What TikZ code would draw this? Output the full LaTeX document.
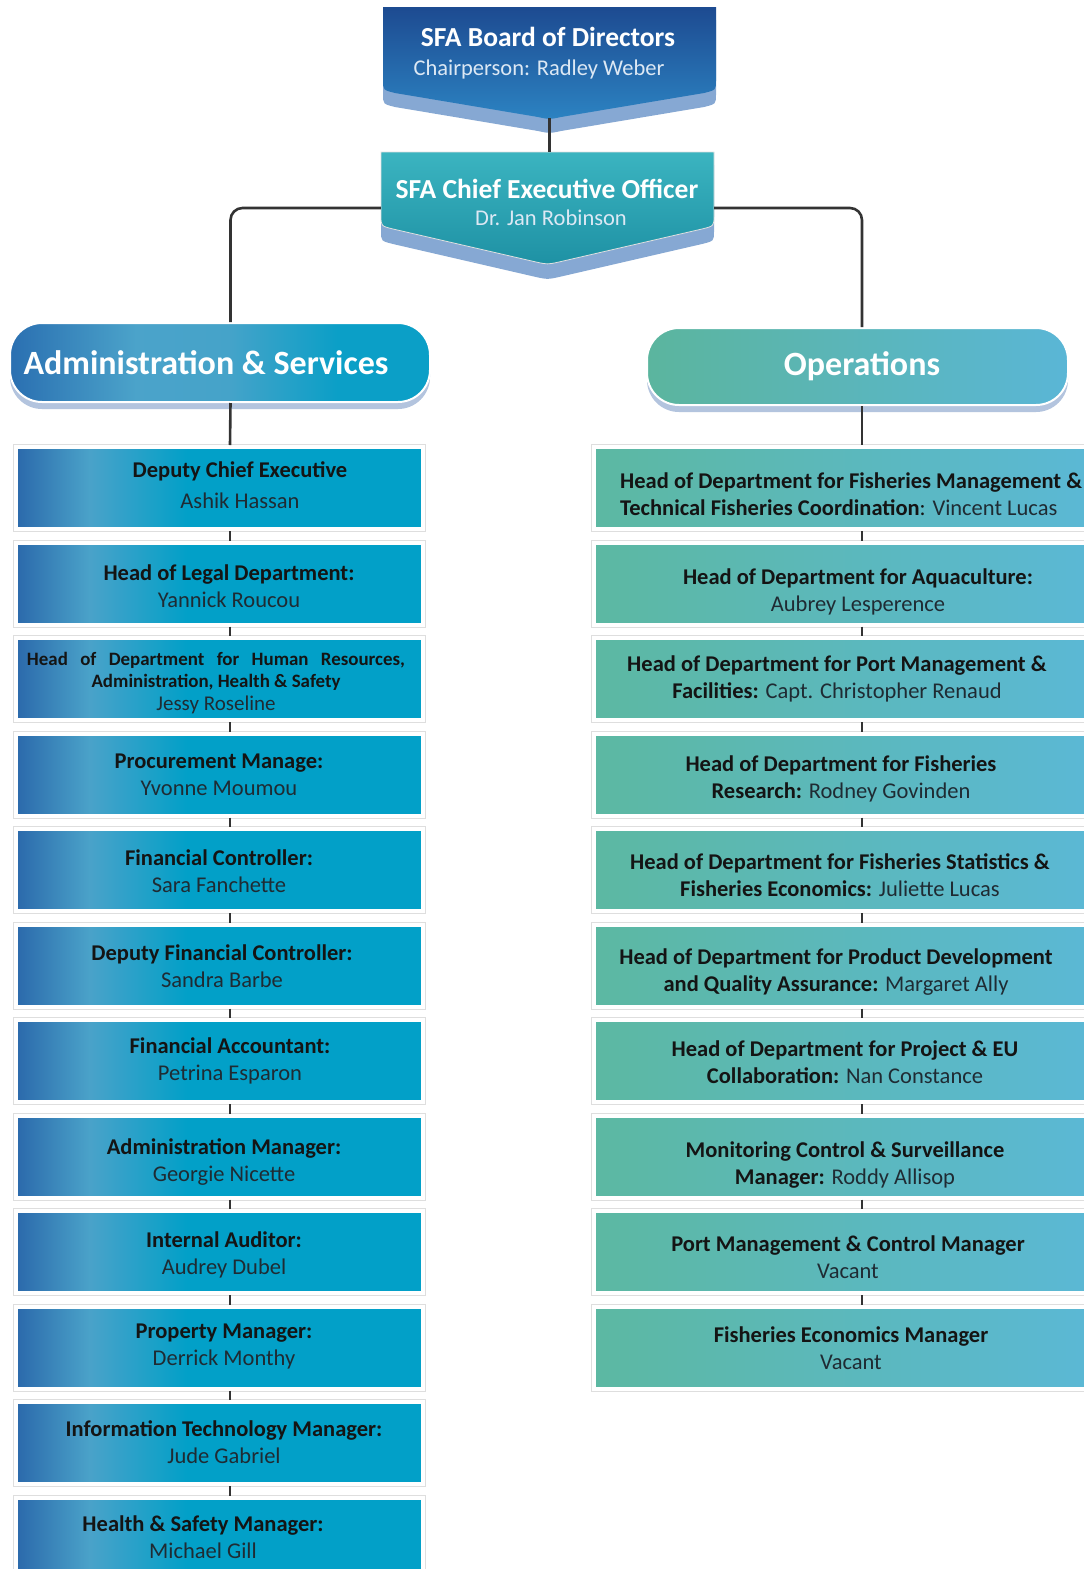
\documentclass[tikz,border=0pt]{standalone}
\usepackage{fontspec}
\setmainfont{Carlito}
\usetikzlibrary{shadows}
\definecolor{lbA}{HTML}{2B69AB}
\definecolor{lbB}{HTML}{4AA2C9}
\definecolor{lbC}{HTML}{02A0C8}
\definecolor{ahA}{HTML}{2A6FB1}
\definecolor{ahB}{HTML}{4BA3CA}
\definecolor{ahC}{HTML}{45A3C9}
\definecolor{ahD}{HTML}{0B9FC7}
\definecolor{ogA}{HTML}{5BB59E}
\definecolor{ogB}{HTML}{5AB6D6}
\definecolor{rbA}{HTML}{5CB8A2}
\definecolor{rbB}{HTML}{5BB8D6}
\definecolor{hdShadow}{HTML}{B3C4DE}
\definecolor{bnShadow}{HTML}{86A8D3}
\definecolor{bdTop}{HTML}{1D4B91}
\definecolor{bdBot}{HTML}{2C83C2}
\definecolor{ceTop}{HTML}{3BB4C0}
\definecolor{ceBot}{HTML}{1E91A4}
\definecolor{connC}{HTML}{333333}
\definecolor{txtB}{HTML}{141414}
\definecolor{txtN}{HTML}{1F2B33}
\definecolor{subW}{HTML}{DCE8F4}
\pgfdeclarehorizontalshading{lboxshade}{100bp}{color(0bp)=(lbA); color(25bp)=(lbA); color(34bp)=(lbB); color(46bp)=(lbC); color(100bp)=(lbC)}
\pgfdeclarehorizontalshading{aheadshade}{100bp}{color(0bp)=(ahA); color(25bp)=(ahA); color(40bp)=(ahB); color(51bp)=(ahC); color(64bp)=(ahD); color(100bp)=(ahD)}
\begin{document}
\begin{tikzpicture}[x=1pt,y=-1pt,
  lbox/.style={rectangle, inner sep=0pt, minimum width=407pt, minimum height=82pt, shade, shading=lboxshade, draw=white, line width=4pt, preaction={draw=black!13, line width=6pt}},
  rbox/.style={rectangle, inner sep=0pt, minimum width=506pt, minimum height=82pt, left color=rbA, right color=rbB, draw=white, line width=4pt, preaction={draw=black!13, line width=6pt}},
  hdr/.style={rectangle, rounded corners=32pt, inner sep=0pt, draw=white, line width=2pt, drop shadow={shadow xshift=0pt, shadow yshift=-7pt, fill=hdShadow, opacity=1}},
  ghost/.style={rectangle, inner sep=0pt},
  tx/.style={inner sep=0pt, align=center, text=txtB, font=\fontsize{22.5}{27}\selectfont},
  conn/.style={draw=connC, line width=2.6pt},
]
\useasboundingbox (0,0) rectangle (1084,1569);
\fill[white] (0,0) rectangle (1084,1569);

% ---- Board banner
\fill[bnShadow] (383,20) -- (716,20) -- (716,94) .. controls (716,104) .. (704,107) -- (561,131) .. controls (549.5,133.5) .. (538,131) -- (395,107) .. controls (383,104) .. (383,94) -- cycle;
\shade[top color=bdTop, bottom color=bdBot] (383,7) -- (716,7) -- (716,80) .. controls (716,90) .. (704,93) -- (561,117) .. controls (549.5,119.5) .. (538,117) -- (395,93) .. controls (383,90) .. (383,80) -- cycle;
\node[ghost, minimum width=333pt, minimum height=111pt] (board) at (549.5,62.5) {};
\node[tx, text=white, font=\fontsize{27.5}{32}\selectfont\bfseries] (boardT) at (548,40) {\strut SFA Board of Directors};
\node[tx, text=subW, font=\fontsize{22.5}{26}\selectfont] (boardS) at (539,70) {\strut Chairperson: Radley Weber};

% ---- CEO banner
\fill[bnShadow] (381,165) -- (714,165) -- (714,231) .. controls (714,241) .. (702,244) -- (559,277) .. controls (547.5,279.5) .. (536,277) -- (393,244) .. controls (381,241) .. (381,231) -- cycle;
\shade[top color=ceTop, bottom color=ceBot, draw=black!12, line width=0.8pt] (381,152) -- (714,152) -- (714,216) .. controls (714,226) .. (702,229) -- (559,262) .. controls (547.5,264.5) .. (536,262) -- (393,229) .. controls (381,226) .. (381,216) -- cycle;
\node[ghost, minimum width=333pt, minimum height=112pt] (ceo) at (547.5,208) {};
\node[tx, text=white, font=\fontsize{27.5}{32}\selectfont\bfseries] (ceoT) at (547,192) {\strut SFA Chief Executive Officer};
\node[tx, text=subW, font=\fontsize{22.5}{26}\selectfont] (ceoS) at (551,220) {\strut Dr. Jan Robinson};

% ---- Section headers
\node[hdr, minimum width=420pt, minimum height=79pt, shade, shading=aheadshade] (admin) at (220,362.5) {};
\node[tx, text=white, font=\fontsize{34}{40}\selectfont\bfseries] (adminT) at (206,366) {\strut Administration \& Services};
\node[hdr, minimum width=421pt, minimum height=77pt, left color=ogA, right color=ogB] (ops) at (857.5,366.5) {};
\node[tx, text=white, font=\fontsize{34}{40}\selectfont\bfseries] (opsT) at (862,367) {\strut Operations};

% ---- Left column boxes
\foreach \i in {0,...,11} \node[lbox] (L\i) at (219.5,488+95.5*\i) {};
% ---- Right column boxes
\foreach \i in {0,...,9} \node[rbox] (R\i) at (847,488+95.5*\i) {};

% ---- Left texts
\node[tx, font=\fontsize{22.5}{31}\selectfont] (L0t) at (240,486.5) {\strut\textbf{Deputy Chief Executive}\\\strut\textcolor{txtN}{Ashik Hassan}};
\node[tx] (L1t) at (229,588.5) {\strut\textbf{Head of Legal Department:}\\\strut\textcolor{txtN}{Yannick Roucou}};
\node[tx, font=\fontsize{18.9}{22}\selectfont] (L2t) at (216,684) {\strut\makebox[378pt][s]{\bfseries Head of Department for Human Resources,}\\\strut\textbf{Administration, Health \& Safety}\\[1pt]\strut{\fontsize{21}{22}\selectfont\textcolor{txtN}{Jessy Roseline}}};
\node[tx] (L3t) at (219,776.5) {\strut\textbf{Procurement Manage:}\\\strut\textcolor{txtN}{Yvonne Moumou}};
\node[tx] (L4t) at (219,874) {\strut\textbf{Financial Controller:}\\\strut\textcolor{txtN}{Sara Fanchette}};
\node[tx] (L5t) at (222,968.5) {\strut\textbf{Deputy Financial Controller:}\\\strut\textcolor{txtN}{Sandra Barbe}};
\node[tx] (L6t) at (230,1061.5) {\strut\textbf{Financial Accountant:}\\\strut\textcolor{txtN}{Petrina Esparon}};
\node[tx] (L7t) at (224,1162.5) {\strut\textbf{Administration Manager:}\\\strut\textcolor{txtN}{Georgie Nicette}};
\node[tx] (L8t) at (224,1255.5) {\strut\textbf{Internal Auditor:}\\\strut\textcolor{txtN}{Audrey Dubel}};
\node[tx] (L9t) at (224,1347) {\strut\textbf{Property Manager:}\\\strut\textcolor{txtN}{Derrick Monthy}};
\node[tx] (L10t) at (224,1445) {\strut\textbf{Information Technology Manager:}\\\strut\textcolor{txtN}{Jude Gabriel}};
\node[tx] (L11t) at (203,1539.5) {\strut\textbf{Health \& Safety Manager:}\\\strut\textcolor{txtN}{Michael Gill}};

% ---- Right texts
\node[tx, align=left, anchor=west] (R0t) at (620,496.5) {\strut\textbf{Head of Department for Fisheries Management \&}\\\strut\textbf{Technical Fisheries Coordination}: \textcolor{txtN}{Vincent Lucas}};
\node[tx] (R1t) at (858,592.5) {\strut\textbf{Head of Department for Aquaculture:}\\\strut\textcolor{txtN}{Aubrey Lesperence}};
\node[tx] (R2t) at (837,679.5) {\strut\textbf{Head of Department for Port Management \&}\\\strut\textbf{Facilities:} \textcolor{txtN}{Capt. Christopher Renaud}};
\node[tx] (R3t) at (841,779.5) {\strut\textbf{Head of Department for Fisheries}\\\strut\textbf{Research:} \textcolor{txtN}{Rodney Govinden}};
\node[tx] (R4t) at (840,877.5) {\strut\textbf{Head of Department for Fisheries Statistics \&}\\\strut\textbf{Fisheries Economics:} \textcolor{txtN}{Juliette Lucas}};
\node[tx] (R5t) at (836,972.5) {\strut\textbf{Head of Department for Product Development}\\\strut\textbf{and Quality Assurance:} \textcolor{txtN}{Margaret Ally}};
\node[tx] (R6t) at (845,1064.5) {\strut\textbf{Head of Department for Project \& EU}\\\strut\textbf{Collaboration:} \textcolor{txtN}{Nan Constance}};
\node[tx] (R7t) at (845,1165.5) {\strut\textbf{Monitoring Control \& Surveillance}\\\strut\textbf{Manager:} \textcolor{txtN}{Roddy Allisop}};
\node[tx] (R8t) at (848,1259.5) {\strut\textbf{Port Management \& Control Manager}\\\strut\textcolor{txtN}{Vacant}};
\node[tx] (R9t) at (851,1351) {\strut\textbf{Fisheries Economics Manager}\\\strut\textcolor{txtN}{Vacant}};

% ---- Connectors
\draw[conn] (board.south) -- (board.south |- ceo.north);
\draw[conn, rounded corners=12pt] (ceo.west) -| ([xshift=10.5pt]admin.north);
\draw[conn, rounded corners=12pt] (ceo.east) -| ([xshift=4.5pt]ops.north);
\draw[conn] ([xshift=10.5pt]admin.south) -- ([xshift=10.5pt]L0.north);
\draw[conn] ([xshift=4.5pt]ops.south) -- ([xshift=15pt]R0.north);
\foreach \i [evaluate=\i as \j using int(\i+1)] in {0,...,10}
  \draw[conn] ([xshift=10.5pt]L\i.south) -- ([xshift=10.5pt]L\j.north);
\foreach \i [evaluate=\i as \j using int(\i+1)] in {0,...,8}
  \draw[conn] ([xshift=15pt]R\i.south) -- ([xshift=15pt]R\j.north);
\end{tikzpicture}
\end{document}
